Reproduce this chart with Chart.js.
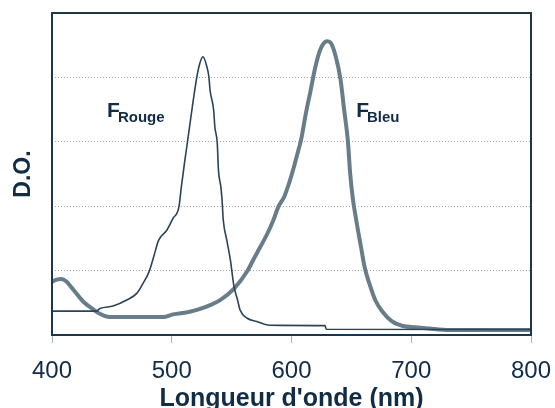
<!DOCTYPE html>
<html>
<head>
<meta charset="utf-8">
<script src="https://cdn.jsdelivr.net/npm/chart.js@4"></script>
<style>
  html, body { margin: 0; padding: 0; background: #fff; }
  #wrap { width: 555px; height: 408px; }
</style>
</head>
<body>
<div id="wrap"><canvas id="spectre" width="555" height="408"></canvas></div>
<script>
// filtre rouge (trait fin)
const rougeNm = [400, 437, 440, 451, 462, 471, 476, 481, 485, 489, 496, 501, 506, 508, 511, 513, 515, 518, 521, 523, 526, 529, 531, 532, 535, 536, 538, 539, 541, 542, 543, 546, 549, 552, 555, 557, 563, 571, 580, 591, 628, 629, 800];
const rougeDO = [0.37, 0.37, 0.41, 0.45, 0.54, 0.65, 0.80, 0.98, 1.22, 1.47, 1.63, 1.81, 1.99, 2.30, 2.72, 2.98, 3.25, 3.65, 4.01, 4.19, 4.32, 4.19, 4.01, 3.80, 3.49, 3.23, 2.98, 2.56, 2.30, 2.10, 1.79, 1.47, 1.16, 0.75, 0.54, 0.39, 0.26, 0.21, 0.155, 0.15, 0.145, 0.09, 0.085];

// filtre bleu (trait épais)
const bleuNm = [400, 404, 408, 412, 418, 426, 435, 440, 448, 470, 493, 501, 515, 529, 541, 552, 563, 569, 574, 580, 585, 589, 594, 598, 602, 605, 608, 612, 616, 620, 624, 628, 630, 633, 637, 641, 644, 647, 649, 651, 654, 658, 661, 665, 670, 676, 684, 693, 704, 715, 732, 800];
const bleuDO = [0.83, 0.86, 0.87, 0.83, 0.70, 0.52, 0.39, 0.33, 0.28, 0.28, 0.28, 0.32, 0.36, 0.44, 0.55, 0.72, 0.99, 1.20, 1.37, 1.58, 1.79, 1.99, 2.15, 2.36, 2.61, 2.82, 3.03, 3.44, 3.80, 4.17, 4.43, 4.55, 4.56, 4.53, 4.32, 3.96, 3.49, 3.03, 2.51, 2.15, 1.79, 1.37, 1.06, 0.80, 0.54, 0.36, 0.21, 0.14, 0.12, 0.10, 0.078, 0.078];

// étiquettes des courbes
const labelMain = ['F', 'F'];
const labelSub = ['Rouge', 'Bleu'];
const labelNm = [446, 654];
const labelDO = [3.39, 3.39];

const xTicks = [400, 500, 600, 700, 800];

const navy = '#112c44';
const police = "'Liberation Sans', Arial, sans-serif";

const toPoints = (xs, ys) => xs.map((x, i) => ({ x: x, y: ys[i] }));

// cadre + étiquettes F Rouge / F Bleu
const decorPlugin = {
	id: 'decor',
	afterDraw(chart) {
		const ctx = chart.ctx;
		const a = chart.chartArea;
		ctx.save();
		ctx.strokeStyle = '#1d3649';
		ctx.lineWidth = 2;
		ctx.strokeRect(a.left, a.top, a.right - a.left, a.bottom - a.top);

		ctx.fillStyle = navy;
		ctx.textBaseline = 'alphabetic';
		ctx.textAlign = 'left';
		for (let i = 0; i < labelMain.length; i++) {
			const px = chart.scales.x.getPixelForValue(labelNm[i]);
			const py = chart.scales.y.getPixelForValue(labelDO[i]);
			ctx.font = 'bold 21px ' + police;
			ctx.fillText(labelMain[i], px, py);
			const w = ctx.measureText(labelMain[i]).width;
			ctx.font = 'bold 15px ' + police;
			ctx.fillText(labelSub[i], px + w - 2, py + 5);
		}
		ctx.restore();
	}
};

new Chart(document.getElementById('spectre'), {
	type: 'line',
	plugins: [decorPlugin],
	data: {
		datasets: [
			{
				label: 'F Rouge',
				data: toPoints(rougeNm, rougeDO),
				borderColor: '#2b4456',
				borderWidth: 1.6,
				pointRadius: 0,
				cubicInterpolationMode: 'monotone',
			},
			{
				label: 'F Bleu',
				data: toPoints(bleuNm, bleuDO),
				borderColor: '#687d8a',
				borderWidth: 4,
				pointRadius: 0,
				cubicInterpolationMode: 'monotone',
			},
		],
	},
	options: {
		responsive: false,
		animation: false,
		layout: { autoPadding: false, padding: { left: 0, right: 24, top: 13, bottom: 0 } },
		plugins: {
			legend: { display: false },
			tooltip: { enabled: false },
		},
		scales: {
			x: {
				type: 'linear',
				min: 400,
				max: 800,
				afterBuildTicks: (scale) => { scale.ticks = xTicks.map((v) => ({ value: v })); },
				afterFit: (scale) => {
					scale.height = 73;
					scale.paddingLeft = 0;
					scale.paddingRight = 0;
				},
				grid: { drawOnChartArea: false, drawTicks: true, tickLength: 8, color: '#a9b2b8' },
				border: { display: false },
				ticks: { color: navy, padding: 14, font: { family: police, size: 24 } },
				title: {
					display: true,
					text: "Longueur d'onde (nm)",
					color: navy,
					padding: { top: 0, bottom: -6 },
					font: { family: police, size: 25, weight: 'bold' },
				},
			},
			y: {
				min: 0,
				max: 5,
				afterFit: (scale) => {
					scale.width = 52;
					scale.paddingTop = 0;
					scale.paddingBottom = 0;
				},
				ticks: { display: false, stepSize: 1 },
				grid: {
					drawTicks: false,
					color: (c) => (c.tick.value === 0 || c.tick.value === 5 ? 'rgba(0,0,0,0)' : '#9fa8ae'),
					lineWidth: 1,
				},
				border: { display: false, dash: [1, 2] },
				title: {
					display: true,
					text: 'D.O.',
					color: navy,
					padding: { top: 10, bottom: 0 },
					font: { family: police, size: 23, weight: 'bold' },
				},
			},
		},
	},
});
</script>
</body>
</html>
